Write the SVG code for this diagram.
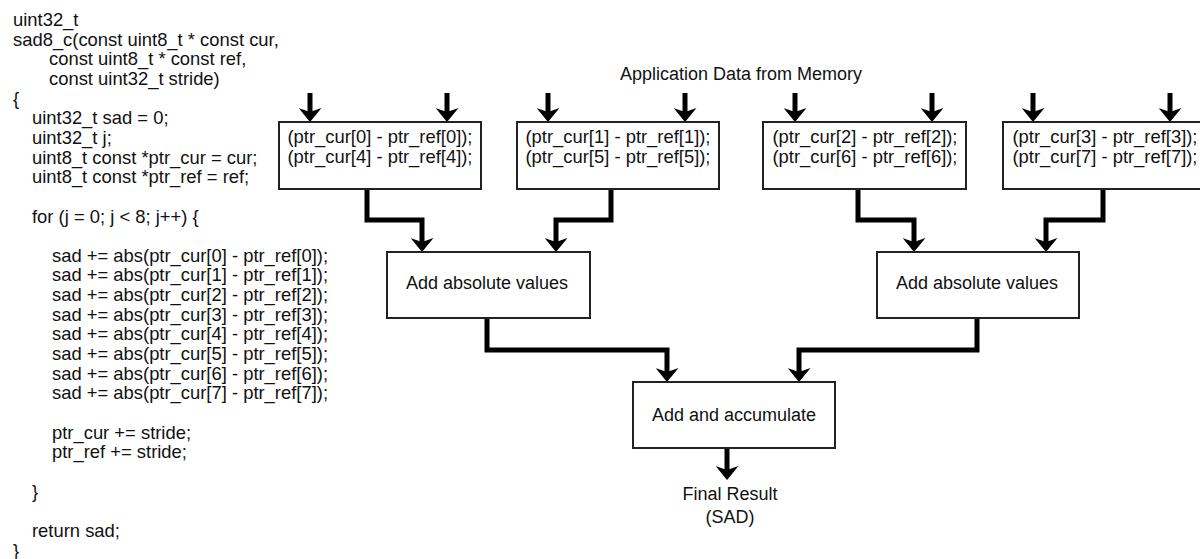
<svg xmlns="http://www.w3.org/2000/svg" width="1200" height="559" viewBox="0 0 1200 559">
<style>
text{font-family:"Liberation Sans",Arial,sans-serif;fill:#111}
.code{font-size:18.4px}
.bt{font-size:18.4px;text-anchor:middle}
.lbl{font-size:18px;text-anchor:middle}
.box{fill:#fff;stroke:#222;stroke-width:2}
.con{fill:none;stroke:#000;stroke-width:5;stroke-linejoin:miter;marker-end:url(#ah)}
</style>
<defs>
<marker id="ah" markerUnits="userSpaceOnUse" viewBox="0 0 14 23" markerWidth="14" markerHeight="23" refX="4" refY="11.5" orient="auto">
<path d="M0,0 L14,11.5 L0,23 L4,11.5 Z" fill="#000"/>
</marker>
</defs>
<rect width="1200" height="559" fill="#fff"/>
<g id="code">
<text class="code">
<tspan x="13" y="26">uint32_t</tspan>
<tspan x="13" y="45.65">sad8_c(const uint8_t * const cur,</tspan>
<tspan x="49" y="65.3">const uint8_t * const ref,</tspan>
<tspan x="49" y="84.95">const uint32_t stride)</tspan>
<tspan x="13" y="104.6">{</tspan>
<tspan x="32" y="124.25">uint32_t sad = 0;</tspan>
<tspan x="32" y="143.9">uint32_t j;</tspan>
<tspan x="32" y="163.55">uint8_t const *ptr_cur = cur;</tspan>
<tspan x="32" y="183.2">uint8_t const *ptr_ref = ref;</tspan>
<tspan x="32" y="222.5">for (j = 0; j &lt; 8; j++) {</tspan>
<tspan x="52" y="261.8">sad += abs(ptr_cur[0] - ptr_ref[0]);</tspan>
<tspan x="52" y="281.45">sad += abs(ptr_cur[1] - ptr_ref[1]);</tspan>
<tspan x="52" y="301.1">sad += abs(ptr_cur[2] - ptr_ref[2]);</tspan>
<tspan x="52" y="320.75">sad += abs(ptr_cur[3] - ptr_ref[3]);</tspan>
<tspan x="52" y="340.4">sad += abs(ptr_cur[4] - ptr_ref[4]);</tspan>
<tspan x="52" y="360.05">sad += abs(ptr_cur[5] - ptr_ref[5]);</tspan>
<tspan x="52" y="379.7">sad += abs(ptr_cur[6] - ptr_ref[6]);</tspan>
<tspan x="52" y="399.35">sad += abs(ptr_cur[7] - ptr_ref[7]);</tspan>
<tspan x="52" y="438.65">ptr_cur += stride;</tspan>
<tspan x="52" y="458.3">ptr_ref += stride;</tspan>
<tspan x="32" y="497.6">}</tspan>
<tspan x="32" y="536.9">return sad;</tspan>
<tspan x="13" y="556.5">}</tspan>
</text>
</g>
<g id="title">
<text class="lbl" x="741" y="80">Application Data from Memory</text>
</g>
<g id="connectors">
<path class="con" d="M310,93 V112"/>
<path class="con" d="M447,93 V112"/>
<path class="con" d="M548,93 V112"/>
<path class="con" d="M685,93 V112"/>
<path class="con" d="M795,93 V112"/>
<path class="con" d="M932,93 V112"/>
<path class="con" d="M1033,93 V112"/>
<path class="con" d="M1170,93 V112"/>
<path class="con" d="M367,189 V220 H422 V242"/>
<path class="con" d="M611,189 V220 H556 V242"/>
<path class="con" d="M858,189 V220 H914 V242"/>
<path class="con" d="M1103,189 V220 H1046 V242"/>
<path class="con" d="M487,318 V350 H667 V372"/>
<path class="con" d="M977,318 V350 H799 V372"/>
<path class="con" d="M727,448 V470"/>
</g>
<g id="box1">
<rect class="box" x="279" y="122" width="202" height="67"/>
<text class="bt" x="380" y="143">(ptr_cur[0] - ptr_ref[0]);</text>
<text class="bt" x="380" y="163">(ptr_cur[4] - ptr_ref[4]);</text>
</g>
<g id="box2">
<rect class="box" x="517" y="122" width="202" height="67"/>
<text class="bt" x="618" y="143">(ptr_cur[1] - ptr_ref[1]);</text>
<text class="bt" x="618" y="163">(ptr_cur[5] - ptr_ref[5]);</text>
</g>
<g id="box3">
<rect class="box" x="763" y="122" width="203" height="67"/>
<text class="bt" x="865" y="143">(ptr_cur[2] - ptr_ref[2]);</text>
<text class="bt" x="865" y="163">(ptr_cur[6] - ptr_ref[6]);</text>
</g>
<g id="box4">
<rect class="box" x="1003" y="122" width="203" height="67"/>
<text class="bt" x="1105" y="143">(ptr_cur[3] - ptr_ref[3]);</text>
<text class="bt" x="1105" y="163">(ptr_cur[7] - ptr_ref[7]);</text>
</g>
<g id="add1">
<rect class="box" x="387" y="252" width="203" height="66"/>
<text class="lbl" x="487" y="289">Add absolute values</text>
</g>
<g id="add2">
<rect class="box" x="877" y="252" width="202" height="66"/>
<text class="lbl" x="977" y="289">Add absolute values</text>
</g>
<g id="accumulate">
<rect class="box" x="633" y="382" width="202" height="66"/>
<text class="lbl" x="734" y="421">Add and accumulate</text>
</g>
<g id="result">
<text class="lbl" x="730" y="500">Final Result</text>
<text class="lbl" x="730" y="523">(SAD)</text>
</g>
</svg>
